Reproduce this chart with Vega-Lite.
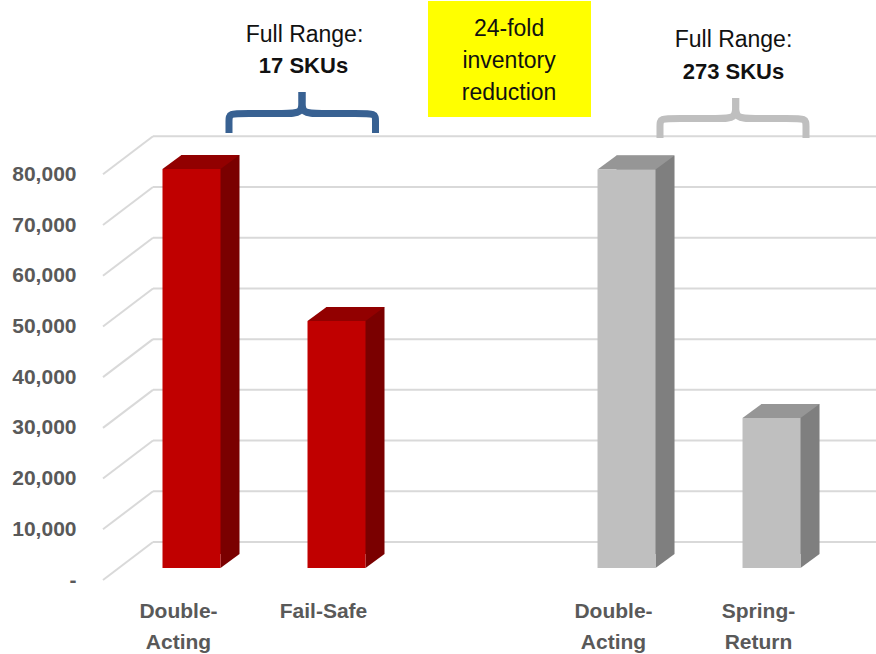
{
  "$schema": "https://vega.github.io/schema/vega-lite/v6.json",
  "width": 723,
  "height": 568,
  "autosize": {"type": "none"},
  "padding": {"left": 153, "top": 0, "right": 0, "bottom": 86},
  "background": "#ffffff",
  "config": {"view": {"stroke": null}, "font": "Liberation Sans"},
  "datasets": {
    "bars": [
      {"slot": "DA1", "label": "Double-\nActing", "range": "17 SKUs", "value": 78700},
      {"slot": "FS", "label": "Fail-Safe", "range": "17 SKUs", "value": 48700},
      {"slot": "DA2", "label": "Double-\nActing", "range": "273 SKUs", "value": 78600},
      {"slot": "SR", "label": "Spring-\nReturn", "range": "273 SKUs", "value": 29600}
    ],
    "ticks": [
      {"value": 0}, {"value": 10000}, {"value": 20000}, {"value": 30000}, {"value": 40000},
      {"value": 50000}, {"value": 60000}, {"value": 70000}, {"value": 80000}
    ],
    "brackets": [
      {"range": "17 SKUs", "part": "L", "i": 0, "s": 0.2586, "value": 85775},
      {"range": "17 SKUs", "part": "L", "i": 1, "s": 0.2586, "value": 88338},
      {"range": "17 SKUs", "part": "L", "i": 2, "s": 0.2586, "value": 89620},
      {"range": "17 SKUs", "part": "L", "i": 3, "s": 0.369, "value": 89620},
      {"range": "17 SKUs", "part": "L", "i": 4, "s": 0.6517, "value": 89620},
      {"range": "17 SKUs", "part": "L", "i": 5, "s": 0.7621, "value": 89620},
      {"range": "17 SKUs", "part": "L", "i": 6, "s": 0.7621, "value": 92282},
      {"range": "17 SKUs", "part": "L", "i": 7, "s": 0.7621, "value": 93860},
      {"range": "17 SKUs", "part": "R", "i": 0, "s": 1.269, "value": 85775},
      {"range": "17 SKUs", "part": "R", "i": 1, "s": 1.269, "value": 88338},
      {"range": "17 SKUs", "part": "R", "i": 2, "s": 1.269, "value": 89620},
      {"range": "17 SKUs", "part": "R", "i": 3, "s": 1.1552, "value": 89620},
      {"range": "17 SKUs", "part": "R", "i": 4, "s": 0.8724, "value": 89620},
      {"range": "17 SKUs", "part": "R", "i": 5, "s": 0.7621, "value": 89620},
      {"range": "17 SKUs", "part": "R", "i": 6, "s": 0.7621, "value": 92282},
      {"range": "17 SKUs", "part": "R", "i": 7, "s": 0.7621, "value": 93860},
      {"range": "273 SKUs", "part": "L", "i": 0, "s": 3.231, "value": 84789},
      {"range": "273 SKUs", "part": "L", "i": 1, "s": 3.231, "value": 87353},
      {"range": "273 SKUs", "part": "L", "i": 2, "s": 3.231, "value": 88634},
      {"range": "273 SKUs", "part": "L", "i": 3, "s": 3.3414, "value": 88634},
      {"range": "273 SKUs", "part": "L", "i": 4, "s": 3.6462, "value": 88634},
      {"range": "273 SKUs", "part": "L", "i": 5, "s": 3.7531, "value": 88634},
      {"range": "273 SKUs", "part": "L", "i": 6, "s": 3.7531, "value": 91296},
      {"range": "273 SKUs", "part": "L", "i": 7, "s": 3.7531, "value": 92677},
      {"range": "273 SKUs", "part": "R", "i": 0, "s": 4.2379, "value": 84789},
      {"range": "273 SKUs", "part": "R", "i": 1, "s": 4.2379, "value": 87353},
      {"range": "273 SKUs", "part": "R", "i": 2, "s": 4.2379, "value": 88634},
      {"range": "273 SKUs", "part": "R", "i": 3, "s": 4.1276, "value": 88634},
      {"range": "273 SKUs", "part": "R", "i": 4, "s": 3.8634, "value": 88634},
      {"range": "273 SKUs", "part": "R", "i": 5, "s": 3.7531, "value": 88634},
      {"range": "273 SKUs", "part": "R", "i": 6, "s": 3.7531, "value": 91296},
      {"range": "273 SKUs", "part": "R", "i": 7, "s": 3.7531, "value": 92677}
    ],
    "box": [{"s": 1.631, "s2": 2.7552, "value": 111803, "value2": 88930}],
    "notesRegular": [
      {"s": 0.7793, "value": 105100, "text": "Full Range:"},
      {"s": 3.7379, "value": 104211, "text": "Full Range:"}
    ],
    "notesBold": [
      {"s": 0.7724, "value": 98986, "text": "17 SKUs"},
      {"s": 3.7379, "value": 97744, "text": "273 SKUs"}
    ],
    "yellowNote": [{"s": 2.19, "value": 106282, "text": "24-fold\ninventory\nreduction"}]
  },
  "encoding": {
    "y": {
      "field": "value",
      "type": "quantitative",
      "scale": {"domain": [0, 112000], "nice": false, "zero": true},
      "axis": {
        "values": [0, 10000, 20000, 30000, 40000, 50000, 60000, 70000, 80000],
        "labelExpr": "datum.value === 0 ? '-\u00a0\u00a0' : format(datum.value, ',')",
        "grid": false,
        "ticks": false,
        "domain": false,
        "labelPadding": 77,
        "labelOffset": 12,
        "labelFont": "Liberation Sans",
        "labelFontSize": 21,
        "labelFontWeight": "bold",
        "labelColor": "#595959",
        "title": null
      }
    }
  },
  "layer": [
    {
      "data": {"name": "ticks"},
      "mark": {"type": "rule", "color": "#D9D9D9", "strokeWidth": 2, "yOffset": -26},
      "encoding": {}
    },
    {
      "layer": [
        {
          "data": {"name": "ticks"},
          "mark": {"type": "rule", "color": "#D9D9D9", "strokeWidth": 2, "yOffset": 12, "y2Offset": -26},
          "encoding": {
            "x": {"datum": -0.6103, "type": "quantitative", "scale": {"domain": [-0.2655, 4.7207], "nice": false, "zero": false}, "axis": null},
            "x2": {"datum": -0.2655},
            "y2": {"field": "value"}
          }
        },
        {
          "data": {"name": "brackets"},
          "mark": {"type": "line", "interpolate": "basis", "strokeWidth": 7, "strokeCap": "butt", "strokeJoin": "round"},
          "encoding": {
            "x": {"field": "s", "type": "quantitative", "axis": null},
            "color": {"field": "range", "type": "nominal", "scale": {"domain": ["17 SKUs", "273 SKUs"], "range": ["#386192", "#BFBFBF"]}, "legend": null},
            "detail": {"field": "part"},
            "order": {"field": "i", "type": "quantitative"}
          }
        },
        {
          "data": {"name": "box"},
          "mark": {"type": "rect", "fill": "#FFFF00"},
          "encoding": {
            "x": {"field": "s", "type": "quantitative", "axis": null},
            "x2": {"field": "s2"},
            "y2": {"field": "value2"}
          }
        },
        {
          "data": {"name": "notesRegular"},
          "mark": {"type": "text", "fontSize": 23, "color": "#111111", "align": "center", "baseline": "middle", "font": "Liberation Sans"},
          "encoding": {
            "x": {"field": "s", "type": "quantitative", "axis": null},
            "text": {"field": "text"}
          }
        },
        {
          "data": {"name": "notesBold"},
          "mark": {"type": "text", "fontSize": 22, "fontWeight": "bold", "color": "#111111", "align": "center", "baseline": "middle", "font": "Liberation Sans"},
          "encoding": {
            "x": {"field": "s", "type": "quantitative", "axis": null},
            "text": {"field": "text"}
          }
        },
        {
          "data": {"name": "yellowNote"},
          "mark": {"type": "text", "fontSize": 23, "color": "#111111", "align": "center", "baseline": "middle", "lineBreak": "\n", "lineHeight": 32, "font": "Liberation Sans"},
          "encoding": {
            "x": {"field": "s", "type": "quantitative", "axis": null},
            "text": {"field": "text"}
          }
        }
      ]
    },
    {
      "data": {"name": "bars"},
      "encoding": {
        "x": {
          "field": "slot",
          "type": "nominal",
          "scale": {"domain": ["DA1", "FS", "gap", "DA2", "SR"], "paddingInner": 0.6, "paddingOuter": 0.293, "align": 0.1118},
          "axis": null
        }
      },
      "layer": [
        {
          "mark": {"type": "bar", "xOffset": 19, "x2Offset": 19, "yOffset": -14, "y2Offset": -14},
          "encoding": {
            "color": {"field": "range", "type": "nominal", "scale": {"domain": ["17 SKUs", "273 SKUs"], "range": ["#7A0000", "#7F7F7F"]}, "legend": null}
          }
        },
        {
          "mark": {"type": "point", "shape": "M-1,-0.7368L1,-0.7368L-1,0.7368Z", "size": 361, "filled": true, "opacity": 1, "strokeWidth": 0, "xOffset": 38.5, "yOffset": -7},
          "encoding": {
            "y": {"datum": 0},
            "color": {"field": "range", "type": "nominal", "scale": {"domain": ["17 SKUs", "273 SKUs"], "range": ["#7A0000", "#7F7F7F"]}, "legend": null}
          }
        },
        {
          "mark": {"type": "point", "shape": "M-1,0.1818L0.5065,0.1818L1,-0.1818L-0.5065,-0.1818Z", "size": 5929, "filled": true, "opacity": 1, "strokeWidth": 0, "xOffset": 9.5, "yOffset": -7},
          "encoding": {
            "color": {"field": "range", "type": "nominal", "scale": {"domain": ["17 SKUs", "273 SKUs"], "range": ["#920000", "#969696"]}, "legend": null}
          }
        },
        {
          "mark": {"type": "bar"},
          "encoding": {
            "color": {"field": "range", "type": "nominal", "scale": {"domain": ["17 SKUs", "273 SKUs"], "range": ["#C00000", "#BFBFBF"]}, "legend": null}
          }
        },
        {
          "mark": {"type": "text", "fontSize": 21, "fontWeight": "bold", "color": "#595959", "align": "center", "baseline": "top", "lineBreak": "\n", "lineHeight": 31.5, "dx": -13, "dy": 32.5, "font": "Liberation Sans"},
          "encoding": {
            "y": {"datum": 0},
            "text": {"field": "label"}
          }
        }
      ],
      "resolve": {"scale": {"color": "independent"}}
    }
  ],
  "resolve": {"scale": {"x": "independent", "color": "independent"}}
}
